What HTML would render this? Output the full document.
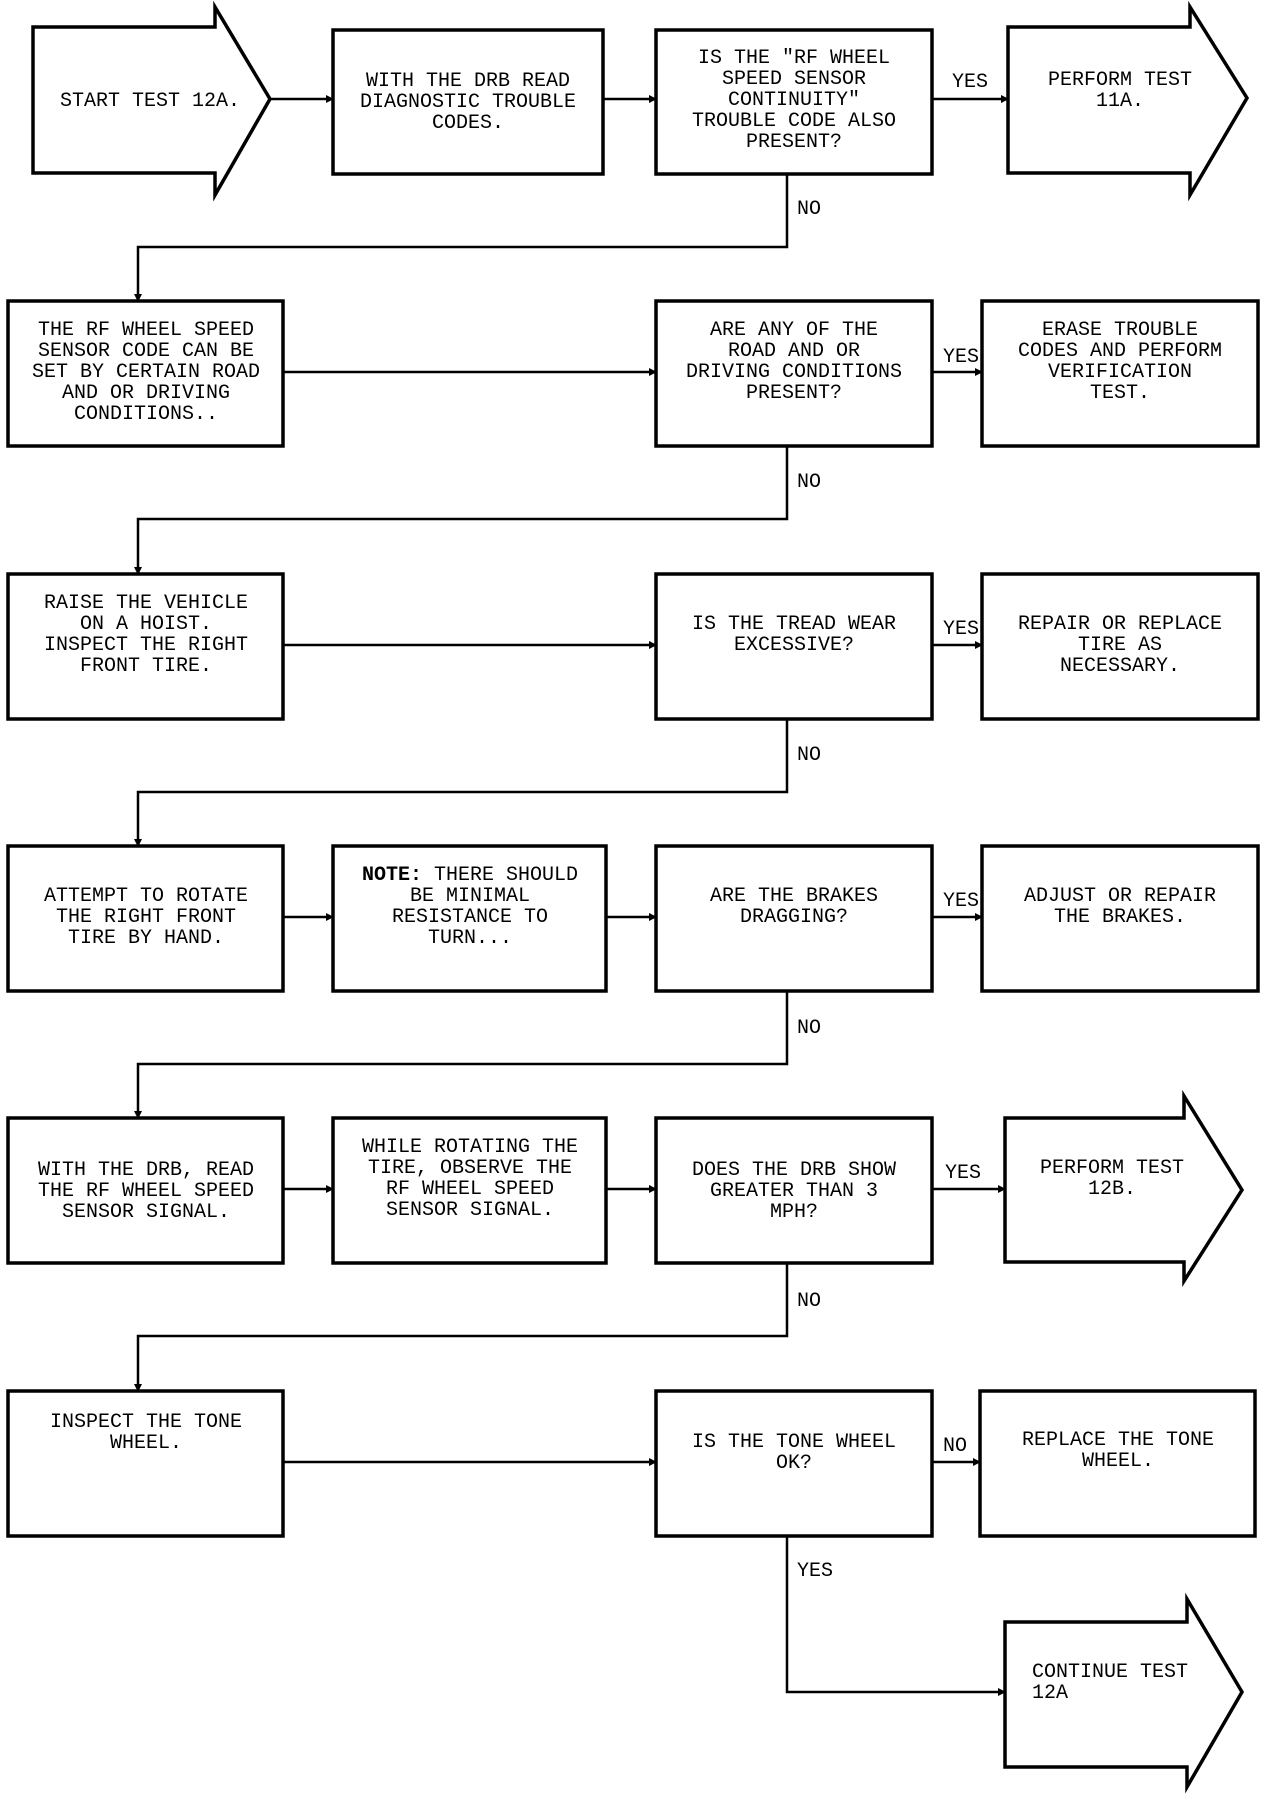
<!DOCTYPE html>
<html><head><meta charset="utf-8"><style>
html,body{margin:0;padding:0;background:#fff;}
svg{display:block;}
text{font-family:"Liberation Mono",monospace;font-size:20px;fill:#000;}
</style></head><body>
<svg width="1280" height="1794" viewBox="0 0 1280 1794" xmlns="http://www.w3.org/2000/svg">
<defs><marker id="a" markerWidth="8" markerHeight="8" refX="7" refY="4" orient="auto" markerUnits="userSpaceOnUse"><path d="M0,0 L8,4 L0,8 z" fill="#000"/></marker></defs>
<g fill="none" stroke="#000" stroke-width="3.5">
<polygon points="33,27 215,27 215,7 270,99 215,195 215,173 33,173"/>
<rect x="333" y="30" width="270" height="144"/>
<rect x="656" y="30" width="276" height="144"/>
<polygon points="1008,27 1190,27 1190,7 1247,98 1190,195 1190,173 1008,173"/>
<rect x="8" y="301" width="275" height="145"/>
<rect x="656" y="301" width="276" height="145"/>
<rect x="982" y="301" width="276" height="145"/>
<rect x="8" y="574" width="275" height="145"/>
<rect x="656" y="574" width="276" height="145"/>
<rect x="982" y="574" width="276" height="145"/>
<rect x="8" y="846" width="275" height="145"/>
<rect x="333" y="846" width="273" height="145"/>
<rect x="656" y="846" width="276" height="145"/>
<rect x="982" y="846" width="276" height="145"/>
<rect x="8" y="1118" width="275" height="145"/>
<rect x="333" y="1118" width="273" height="145"/>
<rect x="656" y="1118" width="276" height="145"/>
<polygon points="1005,1118 1184,1118 1184,1096 1242,1190 1184,1281 1184,1262 1005,1262"/>
<rect x="8" y="1391" width="275" height="145"/>
<rect x="656" y="1391" width="276" height="145"/>
<rect x="980" y="1391" width="275" height="145"/>
<polygon points="1005,1622 1187,1622 1187,1599 1242,1692 1187,1787 1187,1767 1005,1767"/>
</g>
<g fill="none" stroke="#000" stroke-width="2.5" marker-end="url(#a)">
<path d="M270,99 H333"/><path d="M603,99 H656"/><path d="M932,99 H1008"/>
<path d="M787,174 V247 H138 V301"/>
<path d="M283,372 H656"/><path d="M932,372 H982"/>
<path d="M787,446 V519 H138 V574"/>
<path d="M283,645 H656"/><path d="M932,645 H982"/>
<path d="M787,719 V792 H138 V846"/>
<path d="M283,917 H333"/><path d="M606,917 H656"/><path d="M932,917 H982"/>
<path d="M787,991 V1064 H138 V1118"/>
<path d="M283,1189 H333"/><path d="M606,1189 H656"/><path d="M932,1189 H1005"/>
<path d="M787,1263 V1336 H138 V1391"/>
<path d="M283,1462 H656"/><path d="M932,1462 H980"/>
<path d="M787,1536 V1692 H1005"/>
</g>
<g text-anchor="middle">
<text x="150" y="106">START TEST 12A.</text>
<text x="468" y="86">WITH THE DRB READ</text><text x="468" y="107">DIAGNOSTIC TROUBLE</text><text x="468" y="128">CODES.</text>
<text x="794" y="63">IS THE "RF WHEEL</text><text x="794" y="84">SPEED SENSOR</text><text x="794" y="105">CONTINUITY"</text><text x="794" y="126">TROUBLE CODE ALSO</text><text x="794" y="147">PRESENT?</text>
<text x="1120" y="85">PERFORM TEST</text><text x="1120" y="106">11A.</text>

<text x="146" y="335">THE RF WHEEL SPEED</text><text x="146" y="356">SENSOR CODE CAN BE</text><text x="146" y="377">SET BY CERTAIN ROAD</text><text x="146" y="398">AND OR DRIVING</text><text x="146" y="419">CONDITIONS..</text>
<text x="794" y="335">ARE ANY OF THE</text><text x="794" y="356">ROAD AND OR</text><text x="794" y="377">DRIVING CONDITIONS</text><text x="794" y="398">PRESENT?</text>
<text x="1120" y="335">ERASE TROUBLE</text><text x="1120" y="356">CODES AND PERFORM</text><text x="1120" y="377">VERIFICATION</text><text x="1120" y="398">TEST.</text>

<text x="146" y="608">RAISE THE VEHICLE</text><text x="146" y="629">ON A HOIST.</text><text x="146" y="650">INSPECT THE RIGHT</text><text x="146" y="671">FRONT TIRE.</text>
<text x="794" y="629">IS THE TREAD WEAR</text><text x="794" y="650">EXCESSIVE?</text>
<text x="1120" y="629">REPAIR OR REPLACE</text><text x="1120" y="650">TIRE AS</text><text x="1120" y="671">NECESSARY.</text>

<text x="146" y="901">ATTEMPT TO ROTATE</text><text x="146" y="922">THE RIGHT FRONT</text><text x="146" y="943">TIRE BY HAND.</text>
<text x="470" y="880"><tspan font-weight="bold">NOTE:</tspan> THERE SHOULD</text><text x="470" y="901">BE MINIMAL</text><text x="470" y="922">RESISTANCE TO</text><text x="470" y="943">TURN...</text>
<text x="794" y="901">ARE THE BRAKES</text><text x="794" y="922">DRAGGING?</text>
<text x="1120" y="901">ADJUST OR REPAIR</text><text x="1120" y="922">THE BRAKES.</text>

<text x="146" y="1175">WITH THE DRB, READ</text><text x="146" y="1196">THE RF WHEEL SPEED</text><text x="146" y="1217">SENSOR SIGNAL.</text>
<text x="470" y="1152">WHILE ROTATING THE</text><text x="470" y="1173">TIRE, OBSERVE THE</text><text x="470" y="1194">RF WHEEL SPEED</text><text x="470" y="1215">SENSOR SIGNAL.</text>
<text x="794" y="1175">DOES THE DRB SHOW</text><text x="794" y="1196">GREATER THAN 3</text><text x="794" y="1217">MPH?</text>
<text x="1112" y="1173">PERFORM TEST</text><text x="1112" y="1194">12B.</text>

<text x="146" y="1427">INSPECT THE TONE</text><text x="146" y="1448">WHEEL.</text>
<text x="794" y="1447">IS THE TONE WHEEL</text><text x="794" y="1468">OK?</text>
<text x="1118" y="1445">REPLACE THE TONE</text><text x="1118" y="1466">WHEEL.</text>
</g>
<text x="1032" y="1677">CONTINUE TEST</text><text x="1032" y="1698">12A</text>
<g>
<text x="952" y="87">YES</text>
<text x="797" y="214">NO</text>
<text x="943" y="362">YES</text>
<text x="797" y="487">NO</text>
<text x="943" y="634">YES</text>
<text x="797" y="760">NO</text>
<text x="943" y="906">YES</text>
<text x="797" y="1033">NO</text>
<text x="945" y="1178">YES</text>
<text x="797" y="1306">NO</text>
<text x="943" y="1451">NO</text>
<text x="797" y="1576">YES</text>
</g>
</svg>
</body></html>
